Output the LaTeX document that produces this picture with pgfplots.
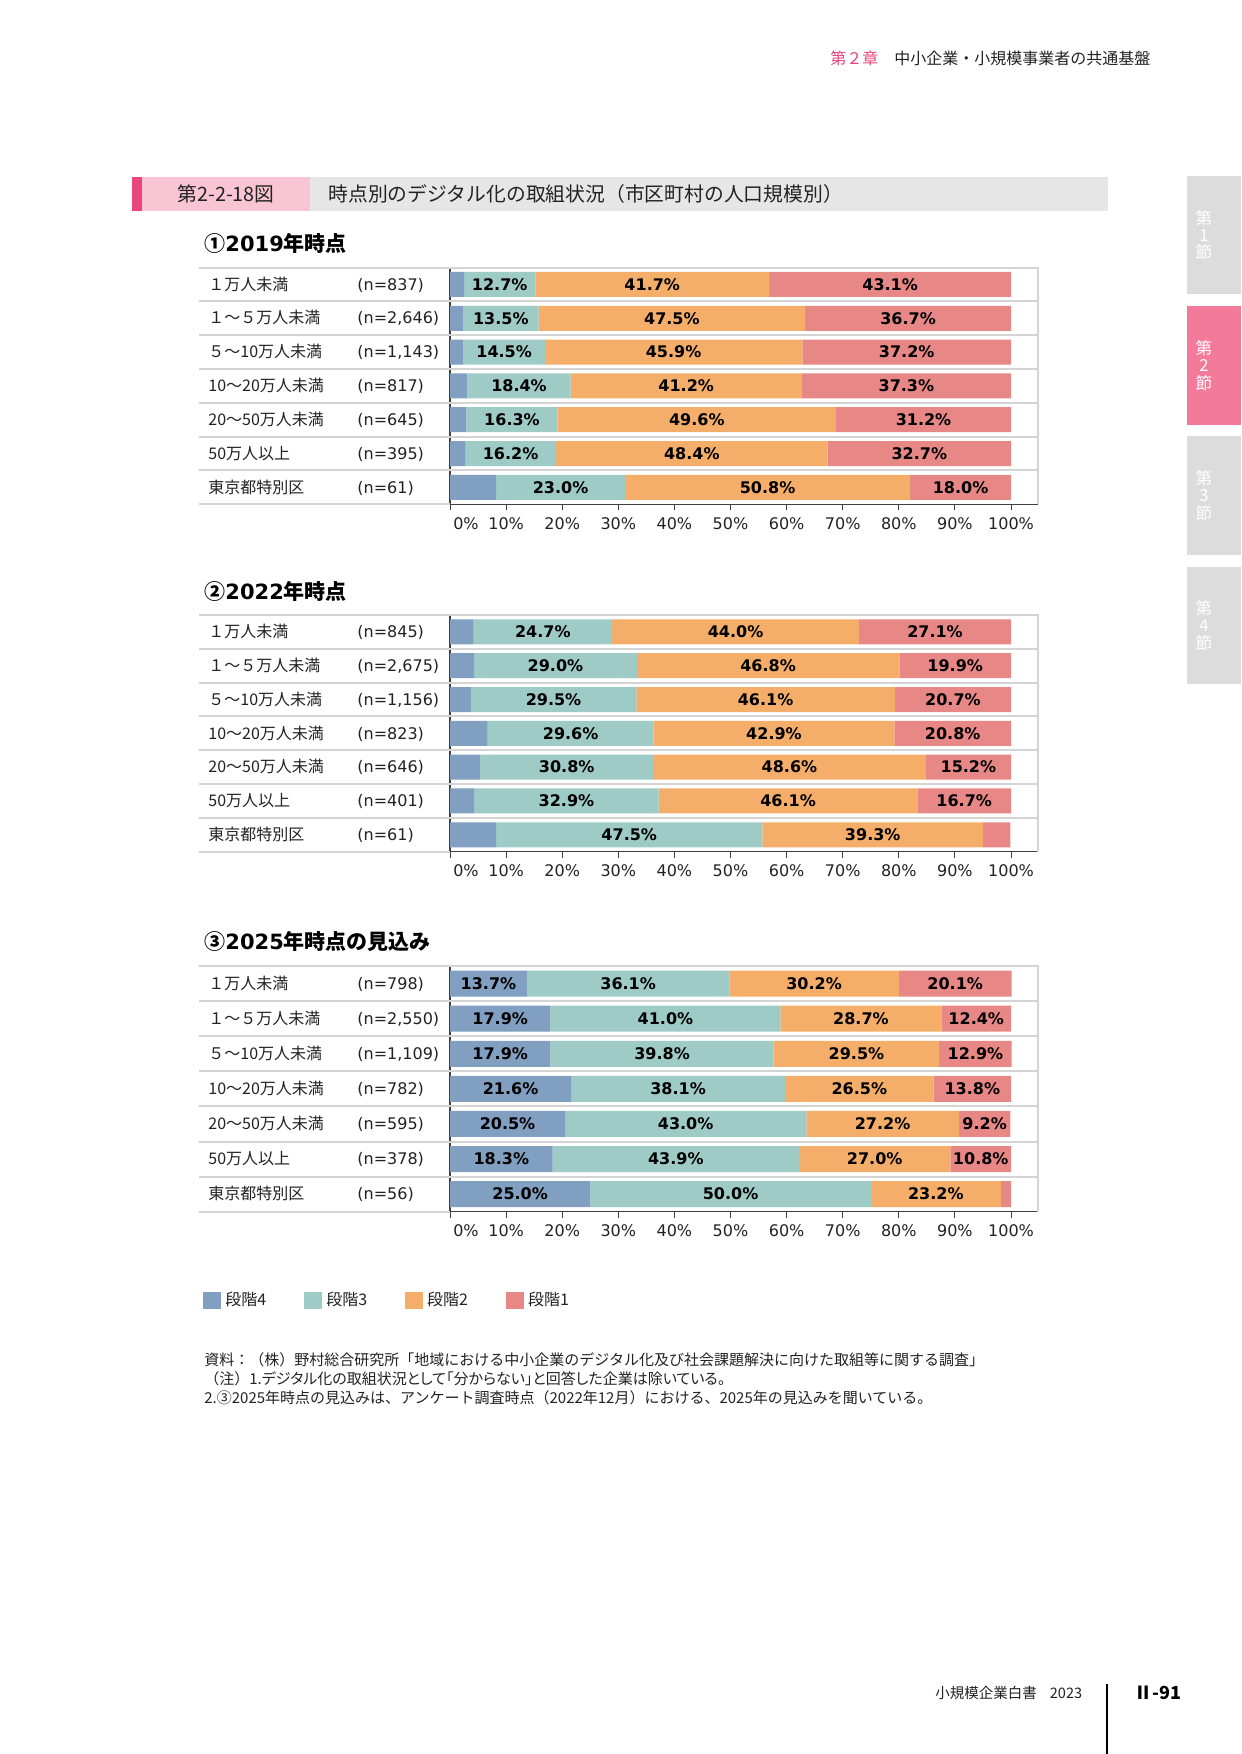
\documentclass[border=0pt]{standalone}
\usepackage{pgfplots}
\pgfplotsset{compat=1.18}
\usepackage{pgfplotstable}
\usepackage{fontspec}
\setmainfont{Noto Sans CJK JP}
\newfontfamily\lat{DejaVu Sans}
\definecolor{cA}{HTML}{819FC0}
\definecolor{cB}{HTML}{9FCBC6}
\definecolor{cC}{HTML}{F4AE69}
\definecolor{cD}{HTML}{E88886}
\definecolor{pinkdark}{HTML}{E8467C}
\definecolor{pinklight}{HTML}{F9C5D2}
\definecolor{titlegray}{HTML}{E6E6E6}
\definecolor{tabgray}{HTML}{DCDCDC}
\definecolor{tabpink}{HTML}{F47A9B}
\definecolor{sepc}{HTML}{D4D4D4}
\definecolor{txt}{HTML}{222222}

\pgfplotstableread{
y s4 s3 s2 s1
6 2.5 12.7 41.7 43.1
5 2.3 13.5 47.5 36.7
4 2.4 14.5 45.9 37.2
3 3.1 18.4 41.2 37.3
2 2.9 16.3 49.6 31.2
1 2.7 16.2 48.4 32.7
0 8.2 23.0 50.8 18.0
}\tabA
\pgfplotstableread{
y s4 s3 s2 s1
6 4.2 24.7 44.0 27.1
5 4.3 29.0 46.8 19.9
4 3.7 29.5 46.1 20.7
3 6.7 29.6 42.9 20.8
2 5.4 30.8 48.6 15.2
1 4.3 32.9 46.1 16.7
0 8.2 47.5 39.3 4.9
}\tabB
\pgfplotstableread{
y s4 s3 s2 s1
6 13.7 36.1 30.2 20.1
5 17.9 41.0 28.7 12.4
4 17.9 39.8 29.5 12.9
3 21.6 38.1 26.5 13.8
2 20.5 43.0 27.2 9.2
1 18.3 43.9 27.0 10.8
0 25.0 50.0 23.2 1.8
}\tabC

\newcommand\rl[2]{\makebox[74.5pt][l]{#1}{\lat #2}}

\pgfplotsset{
  pagebar/.style={
    xbar stacked, scale only axis, width=294pt,
    xmin=0, xmax=104.81, ymin=-0.5, ymax=6.5,
    axis lines*=left, axis line style={black!75, line width=0.6pt},
    xtick={0,10,...,100},
    xticklabels={\hspace*{16pt}0\%,10\%,20\%,30\%,40\%,50\%,60\%,70\%,80\%,90\%,100\%},
    xticklabel style={font=\lat\fontsize{8}{9.6}\selectfont, text=txt},
    tick align=outside, major tick length=3pt,
    xtick style={black!75, line width=0.5pt},
    ytick={0,...,6}, ytick style={draw=none},
    yticklabel style={anchor=west, inner sep=0pt, xshift=-118pt, font=\fontsize{8}{9.6}\selectfont, text=txt},
    clip=false,
    nodes near coords={\ifdim\rawx pt<9pt\relax\else\pgfmathprintnumber[fixed,fixed zerofill,precision=1,assume math mode=true]{\rawx}\%\fi},
    visualization depends on={rawx \as \rawx},
    every node near coord/.append style={anchor=center, font=\lat\bfseries\fontsize{8}{9.6}\selectfont, text=black, inner sep=0pt},
  }
}

\newcommand\seplines{%
  \pgfplotsinvokeforeach{0.5,1.5,2.5,3.5,4.5,5.5}{\draw[sepc, line width=1pt] (axis cs:-44.74,##1) -- (axis cs:104.81,##1);}
  \draw[sepc, line width=1pt] (axis cs:-44.74,6.5) -- (axis cs:104.81,6.5) -- (axis cs:104.81,-0.5);
  \draw[sepc, line width=1pt] (axis cs:-44.74,-0.5) -- (axis cs:0,-0.5);
}

\begin{document}
\begin{tikzpicture}
\fill[white] (0,0) rectangle (620.5pt,-877pt);
\begin{scope}[x=0.5pt,y=-0.5pt]
 % page header
 \node[anchor=west, inner sep=0pt, font=\fontsize{8}{9.6}\selectfont] at (830,58) {\textcolor{pinkdark}{第２章}\textcolor{txt}{　中小企業・小規模事業者の共通基盤}};
 % title bar
 \fill[pinkdark] (132,177) rectangle (142,211);
 \fill[pinklight] (142,177) rectangle (310,211);
 \fill[titlegray] (310,177) rectangle (1108,211);
 \node[font=\fontsize{9.9}{12}\selectfont, text=txt, inner sep=0pt] at (226,194) {第2-2-18図};
 \node[anchor=west, font=\fontsize{9.9}{12}\selectfont, text=txt, inner sep=0pt] at (328,194) {時点別のデジタル化の取組状況（市区町村の人口規模別）};
 % headings
 \node[anchor=west, inner sep=0pt, font=\bfseries\fontsize{10.5}{12}\selectfont, text=black] at (204,243) {①{\lat 2019}年時点};
 \node[anchor=west, inner sep=0pt, font=\bfseries\fontsize{10.5}{12}\selectfont, text=black] at (204,591) {②{\lat 2022}年時点};
 \node[anchor=west, inner sep=0pt, font=\bfseries\fontsize{10.5}{12}\selectfont, text=black] at (204,942) {③{\lat 2025}年時点の見込み};
 % notes
 \node[anchor=west, inner sep=0pt, font=\fontsize{7.5}{9}\selectfont, text=txt] at (204,1360) {資料：（株）野村総合研究所「地域における中小企業のデジタル化及び社会課題解決に向けた取組等に関する調査」};
 \node[anchor=west, inner sep=0pt, font=\fontsize{7.5}{9}\selectfont, text=txt] at (204,1379) {（注）{\addfontfeatures{RawFeature=+palt}1.デジタル化の取組状況として「分からない」と回答した企業は除いている。}};
 \node[anchor=west, inner sep=0pt, font=\fontsize{7.5}{9}\selectfont, text=txt] at (204,1398) {2.③2025年時点の見込みは、アンケート調査時点（2022年12月）における、2025年の見込みを聞いている。};
 % side tabs
 \fill[tabgray] (1187,176) rectangle (1241,294);
 \fill[tabpink] (1187,306) rectangle (1241,425);
 \fill[tabgray] (1187,436) rectangle (1241,555);
 \fill[tabgray] (1187,567) rectangle (1241,684);
 \foreach \n/\yy in {1/235,2/365.5,3/495.5,4/625.5}{
   \node[text=white, align=center, inner sep=0pt, font=\fontsize{8.3}{8.6}\selectfont] at (1204,\yy) {第\\\n\\節};
 }
 % footer
 \node[anchor=west, inner sep=0pt, font=\fontsize{7.25}{9}\selectfont, text=txt] at (935,1693) {小規模企業白書\hspace{0.9em}2023};
 \draw[black, line width=0.6pt] (1107,1684) -- (1107,1754);
 \node[anchor=west, inner sep=0pt, font=\bfseries\fontsize{9}{11}\selectfont, text=black] at (1134,1693) {Ⅱ-91};
\end{scope}

% chart 1
\begin{axis}[pagebar, at={(225pt,-252.15pt)}, anchor=south west, height=118.4pt, bar width=12.5pt,
  yticklabels={{\rl{東京都特別区}{(n=61)}},{\rl{50万人以上}{(n=395)}},{\rl{20～50万人未満}{(n=645)}},{\rl{10～20万人未満}{(n=817)}},{\rl{５～10万人未満}{(n=1,143)}},{\rl{１～５万人未満}{(n=2,646)}},{\rl{１万人未満}{(n=837)}}}]
\seplines
\addplot[fill=cA, draw=none] table[x=s4,y=y]{\tabA};
\addplot[fill=cB, draw=none] table[x=s3,y=y]{\tabA};
\addplot[fill=cC, draw=none] table[x=s2,y=y]{\tabA};
\addplot[fill=cD, draw=none] table[x=s1,y=y]{\tabA};
\end{axis}

% chart 2
\begin{axis}[pagebar, at={(225pt,-425.85pt)}, anchor=south west, height=118.35pt, bar width=12.5pt,
  yticklabels={{\rl{東京都特別区}{(n=61)}},{\rl{50万人以上}{(n=401)}},{\rl{20～50万人未満}{(n=646)}},{\rl{10～20万人未満}{(n=823)}},{\rl{５～10万人未満}{(n=1,156)}},{\rl{１～５万人未満}{(n=2,675)}},{\rl{１万人未満}{(n=845)}}}]
\seplines
\addplot[fill=cA, draw=none] table[x=s4,y=y]{\tabB};
\addplot[fill=cB, draw=none] table[x=s3,y=y]{\tabB};
\addplot[fill=cC, draw=none] table[x=s2,y=y]{\tabB};
\addplot[fill=cD, draw=none] table[x=s1,y=y]{\tabB};
\end{axis}

% chart 3
\begin{axis}[pagebar, at={(225pt,-605.85pt)}, anchor=south west, height=122.85pt, bar width=13pt,
  yticklabels={{\rl{東京都特別区}{(n=56)}},{\rl{50万人以上}{(n=378)}},{\rl{20～50万人未満}{(n=595)}},{\rl{10～20万人未満}{(n=782)}},{\rl{５～10万人未満}{(n=1,109)}},{\rl{１～５万人未満}{(n=2,550)}},{\rl{１万人未満}{(n=798)}}},
  legend columns=4,
  legend style={at={(axis description cs:-0.42,-0.3594)}, anchor=west, draw=none, fill=none, inner sep=0pt,
    font=\fontsize{8}{9.6}\selectfont, text=txt,
    /tikz/every even column/.append style={column sep=17pt}},
  legend image code/.code={\fill[#1] (0pt,-4.25pt) rectangle (9pt,4.25pt);}]
\seplines
\addplot[fill=cA, draw=none] table[x=s4,y=y]{\tabC};
\addlegendentry{段階4}
\addplot[fill=cB, draw=none] table[x=s3,y=y]{\tabC};
\addlegendentry{段階3}
\addplot[fill=cC, draw=none] table[x=s2,y=y]{\tabC};
\addlegendentry{段階2}
\addplot[fill=cD, draw=none] table[x=s1,y=y]{\tabC};
\addlegendentry{段階1}
\end{axis}

\pgfresetboundingbox
\useasboundingbox (0,0) rectangle (620.5pt,-877pt);
\end{tikzpicture}
\end{document}
